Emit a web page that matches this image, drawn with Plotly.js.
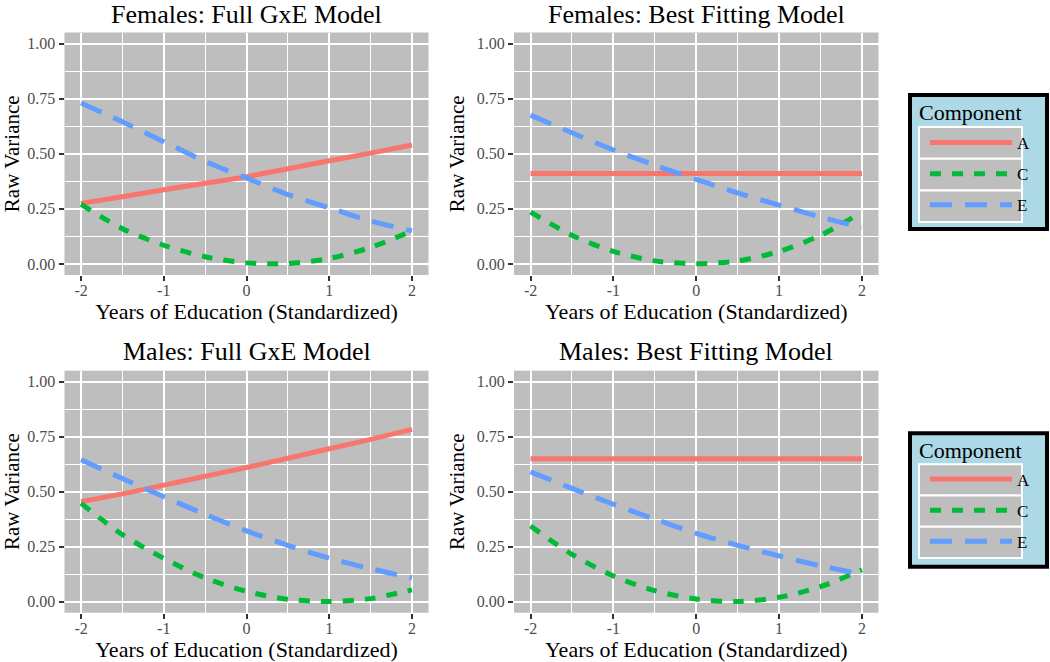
<!DOCTYPE html>
<html>
<head>
<meta charset="utf-8">
<script src="https://cdn.plot.ly/plotly-3.0.1.min.js"></script>
<style>html,body{margin:0;padding:0;background:#fff;}#chart{width:1050px;height:662px;}</style>
</head>
<body>
<div id="chart"></div>
<script>
// Years of Education (standardized) sample positions
const eduX = [-2, -1.5, -1, -0.5, 0, 0.5, 1, 1.5, 2];

// Females: Full GxE Model
const femFullA = [0.275, 0.305, 0.337, 0.366, 0.396, 0.432, 0.468, 0.503, 0.540];
const femFullC = [0.270, 0.160, 0.085, 0.033, 0.005, 0.002, 0.025, 0.075, 0.150];
const femFullE = [0.730, 0.645, 0.555, 0.465, 0.390, 0.315, 0.255, 0.195, 0.150];

// Females: Best Fitting Model
const femBestA = [0.410, 0.410, 0.410, 0.410, 0.410, 0.410, 0.410, 0.410, 0.410];
const femBestC = [0.235, 0.130, 0.057, 0.014, 0.001, 0.014, 0.057, 0.130, 0.235];
const femBestE = [0.675, 0.595, 0.517, 0.448, 0.384, 0.322, 0.267, 0.213, 0.165];

// Males: Full GxE Model
const malFullA = [0.455, 0.490, 0.530, 0.570, 0.610, 0.652, 0.695, 0.738, 0.783];
const malFullC = [0.447, 0.305, 0.197, 0.108, 0.047, 0.011, 0.001, 0.014, 0.054];
const malFullE = [0.645, 0.560, 0.477, 0.397, 0.322, 0.256, 0.198, 0.150, 0.108];

// Males: Best Fitting Model
const malBestA = [0.650, 0.650, 0.650, 0.650, 0.650, 0.650, 0.650, 0.650, 0.650];
const malBestC = [0.344, 0.215, 0.117, 0.050, 0.012, 0.001, 0.020, 0.068, 0.145];
const malBestE = [0.590, 0.515, 0.443, 0.375, 0.311, 0.256, 0.208, 0.163, 0.125];

const panelTitles = ["Females: Full GxE Model", "Females: Best Fitting Model",
                     "Males: Full GxE Model", "Males: Best Fitting Model"];
const components = ["A", "C", "E"];
const legendTitle = "Component";
const xTitle = "Years of Education (Standardized)";
const yTitle = "Raw Variance";
const xTickVals = [-2, -1, 0, 1, 2];
const xTickText = ["-2", "-1", "0", "1", "2"];
const yTickVals = [0, 0.25, 0.5, 0.75, 1];
const yTickText = ["0.00", "0.25", "0.50", "0.75", "1.00"];

const FONT = "Liberation Serif, Times New Roman, serif";
const compStyle = {
  A: {color: "#F8766D", dash: "solid"},
  C: {color: "#00BA38", dash: "11px,11px"},
  E: {color: "#619CFF", dash: "22px,13px"}
};

const panels = [
  {data: [femFullA, femFullC, femFullE], xa: "x",  ya: "y",  legend: "legend",  show: true},
  {data: [femBestA, femBestC, femBestE], xa: "x2", ya: "y2", legend: "legend",  show: false},
  {data: [malFullA, malFullC, malFullE], xa: "x3", ya: "y3", legend: "legend2", show: true},
  {data: [malBestA, malBestC, malBestE], xa: "x4", ya: "y4", legend: "legend2", show: false}
];

const traces = [];
panels.forEach(p => {
  p.data.forEach((vals, i) => {
    const c = components[i];
    traces.push({
      type: "scatter", mode: "lines", x: eduX, y: vals, name: c,
      xaxis: p.xa, yaxis: p.ya, legend: p.legend, showlegend: p.show,
      legendgroup: c,
      line: {color: compStyle[c].color, dash: compStyle[c].dash, width: 5, shape: "spline", smoothing: 0.8},
      hoverinfo: "x+y+name"
    });
  });
});

const W = 1050, H = 662;
const px = v => v / W;          // horizontal pixel -> paper
const py = v => 1 - v / H;      // vertical pixel -> paper
const xDomL = [px(64.5), px(428.5)];
const xDomR = [px(514), px(878.5)];
const yDomT = [py(275), py(32.5)];
const yDomB = [py(612.7), py(370.7)];

function xAxis(domain, anchor) {
  return {
    domain: domain, anchor: anchor, range: [-2.2, 2.2],
    tickvals: xTickVals, ticktext: xTickText,
    ticks: "outside", ticklen: 5, tickwidth: 1.5, tickcolor: "#333333",
    ticklabelstandoff: -4,
    tickfont: {family: FONT, size: 16, color: "#4d4d4d"},
    showgrid: true, gridcolor: "#ffffff", gridwidth: 1.6,
    minor: {dtick: 0.5, tick0: 0, showgrid: true, gridcolor: "#ffffff", gridwidth: 0.8, ticks: ""},
    zeroline: false, showline: false, fixedrange: true,
    title: {text: xTitle, font: {family: FONT, size: 22, color: "#000"}, standoff: 5}
  };
}
function yAxis(domain, anchor) {
  return {
    domain: domain, anchor: anchor, range: [-0.05, 1.05],
    tickvals: yTickVals, ticktext: yTickText,
    ticks: "outside", ticklen: 5, tickwidth: 1.5, tickcolor: "#333333",
    tickfont: {family: FONT, size: 16, color: "#4d4d4d"},
    showgrid: true, gridcolor: "#ffffff", gridwidth: 1.6,
    minor: {dtick: 0.125, tick0: 0, showgrid: true, gridcolor: "#ffffff", gridwidth: 0.8, ticks: ""},
    zeroline: false, showline: false, fixedrange: true,
    title: {text: yTitle, font: {family: FONT, size: 21, color: "#000"}, standoff: 6}
  };
}

// legend frames: pixel top/bottom of the light-blue box and key rows
const legendBoxes = [
  {top: 95, bottom: 229, keyTop: 127, rowH: 31.7},
  {top: 433.3, bottom: 566.7, keyTop: 464.3, rowH: 31.2}
];
const boxLeft = 910, boxRight = 1047, keyLeft = 919, keyRight = 1022;

const shapes = [];
legendBoxes.forEach(b => {
  shapes.push({type: "rect", xref: "paper", yref: "paper", layer: "above",
    x0: px(boxLeft), x1: px(boxRight), y0: py(b.bottom), y1: py(b.top),
    fillcolor: "#add8e6", line: {color: "#000000", width: 4}});
  components.forEach((c, i) => {
    shapes.push({type: "rect", xref: "paper", yref: "paper", layer: "above",
      x0: px(keyLeft), x1: px(keyRight),
      y0: py(b.keyTop + (i + 1) * b.rowH), y1: py(b.keyTop + i * b.rowH),
      fillcolor: "#bebebe", line: {color: "#ffffff", width: 2}});
  });
});

const legendBase = {
  xref: "paper", yref: "paper", xanchor: "left", yanchor: "top",
  bgcolor: "rgba(0,0,0,0)", borderwidth: 0,
  font: {family: FONT, size: 17, color: "#000"},
  itemwidth: 82, traceorder: "grouped", tracegroupgap: 6
};

const annotations = panelTitles.map((t, i) => {
  const dom = (i % 2 === 0) ? xDomL : xDomR;
  return {
    text: t, xref: "paper", yref: "paper",
    x: (dom[0] + dom[1]) / 2, y: i < 2 ? py(15) : py(351),
    xanchor: "center", yanchor: "middle", showarrow: false,
    font: {family: FONT, size: 26, color: "#000"}
  };
});
legendBoxes.forEach(b => {
  annotations.push({
    text: legendTitle, xref: "paper", yref: "paper",
    x: px(keyLeft - 2), y: py(b.top + 17), xanchor: "left", yanchor: "middle",
    showarrow: false, font: {family: FONT, size: 22, color: "#000"}
  });
});

const layout = {
  width: W, height: H,
  margin: {l: 0, r: 0, t: 0, b: 0},
  paper_bgcolor: "#ffffff", plot_bgcolor: "#bebebe",
  font: {family: FONT},
  xaxis: xAxis(xDomL, "y"), yaxis: yAxis(yDomT, "x"),
  xaxis2: xAxis(xDomR, "y2"), yaxis2: yAxis(yDomT, "x2"),
  xaxis3: xAxis(xDomL, "y3"), yaxis3: yAxis(yDomB, "x3"),
  xaxis4: xAxis(xDomR, "y4"), yaxis4: yAxis(yDomB, "x4"),
  legend: Object.assign({}, legendBase, {x: px(925), y: py(125)}),
  legend2: Object.assign({}, legendBase, {x: px(925), y: py(461.5)}),
  annotations: annotations,
  shapes: shapes,
  showlegend: true
};

Plotly.newPlot("chart", traces, layout, {displayModeBar: false});
</script>
</body>
</html>
